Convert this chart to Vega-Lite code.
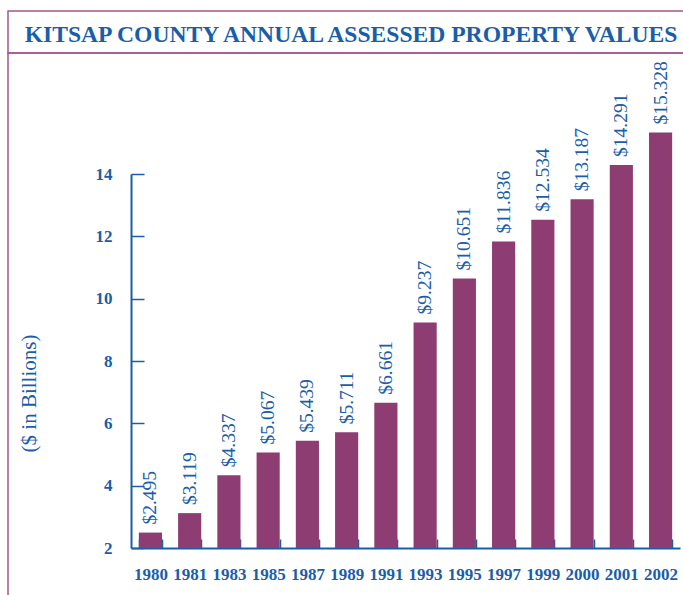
{
  "$schema": "https://vega.github.io/schema/vega-lite/v6.json",
  "padding": {"left": 7, "top": 10, "right": 0, "bottom": 0},
  "spacing": 0,
  "bounds": "flush",
  "config": {"view": {"stroke": "#a5558f", "strokeWidth": 1.5}, "font": "Liberation Serif"},
  "vconcat": [
    {
      "width": 690,
      "height": 42,
      "view": {"stroke": "#a5558f", "strokeWidth": 1.5, "fill": "white"},
      "data": {"values": [{"title": "KITSAP COUNTY ANNUAL ASSESSED PROPERTY VALUES"}]},
      "mark": {"type": "text", "font": "Liberation Serif", "fontWeight": "bold", "fontSize": 23.6, "color": "#1a5ea8", "baseline": "alphabetic", "dy": 10, "dx": -2},
      "encoding": {"text": {"field": "title"}}
    },
    {
      "width": 690,
      "height": 560,
      "data": {"values": [
        {"year": "1980", "value": 2.495},
        {"year": "1981", "value": 3.119},
        {"year": "1983", "value": 4.337},
        {"year": "1985", "value": 5.067},
        {"year": "1987", "value": 5.439},
        {"year": "1989", "value": 5.711},
        {"year": "1991", "value": 6.661},
        {"year": "1993", "value": 9.237},
        {"year": "1995", "value": 10.651},
        {"year": "1997", "value": 11.836},
        {"year": "1999", "value": 12.534},
        {"year": "2000", "value": 13.187},
        {"year": "2001", "value": 14.291},
        {"year": "2002", "value": 15.328}
      ]},
      "encoding": {
        "x": {
          "field": "year", "type": "ordinal", "sort": null,
          "scale": {"range": [123, 672], "paddingInner": 0.41, "paddingOuter": 0.2},
          "axis": {
            "orient": "bottom", "offset": -65, "title": null, "labelAngle": 0,
            "labelFont": "Liberation Serif", "labelFontWeight": "bold", "labelFontSize": 17,
            "labelColor": "#1a5ea8", "labelPadding": 27,
            "tickSize": -9, "tickColor": "#1a5ea8", "tickWidth": 1.5, "tickBand": "extent",
            "domainColor": "#1a5ea8", "domainWidth": 2
          }
        },
        "y": {
          "field": "value", "type": "quantitative",
          "scale": {"domain": [2, 14], "range": [495, 121], "nice": false, "zero": false},
          "axis": {
            "orient": "left", "offset": -123, "values": [2, 4, 6, 8, 10, 12, 14], "grid": false,
            "title": "($ in Billions)", "titleFont": "Liberation Serif", "titleFontWeight": "normal",
            "titleFontSize": 21, "titleColor": "#1a5ea8", "titleX": -102, "titleY": 340,
            "titleAngle": -90, "titleBaseline": "middle", "titleAlign": "center",
            "labelFont": "Liberation Serif", "labelFontWeight": "bold", "labelFontSize": 17,
            "labelColor": "#1a5ea8", "labelPadding": 32,
            "tickSize": -13, "tickColor": "#1a5ea8", "tickWidth": 1.5,
            "domainColor": "#1a5ea8", "domainWidth": 2
          }
        }
      },
      "layer": [
        {"mark": {"type": "bar", "color": "#8e3d73"}, "encoding": {"y2": {"datum": 2}}},
        {
          "mark": {"type": "text", "angle": -90, "align": "left", "baseline": "middle", "dx": 8, "fontSize": 19.5, "font": "Liberation Serif", "color": "#1a5ea8"},
          "encoding": {"text": {"field": "value", "format": "$.3f"}}
        }
      ]
    }
  ]
}
